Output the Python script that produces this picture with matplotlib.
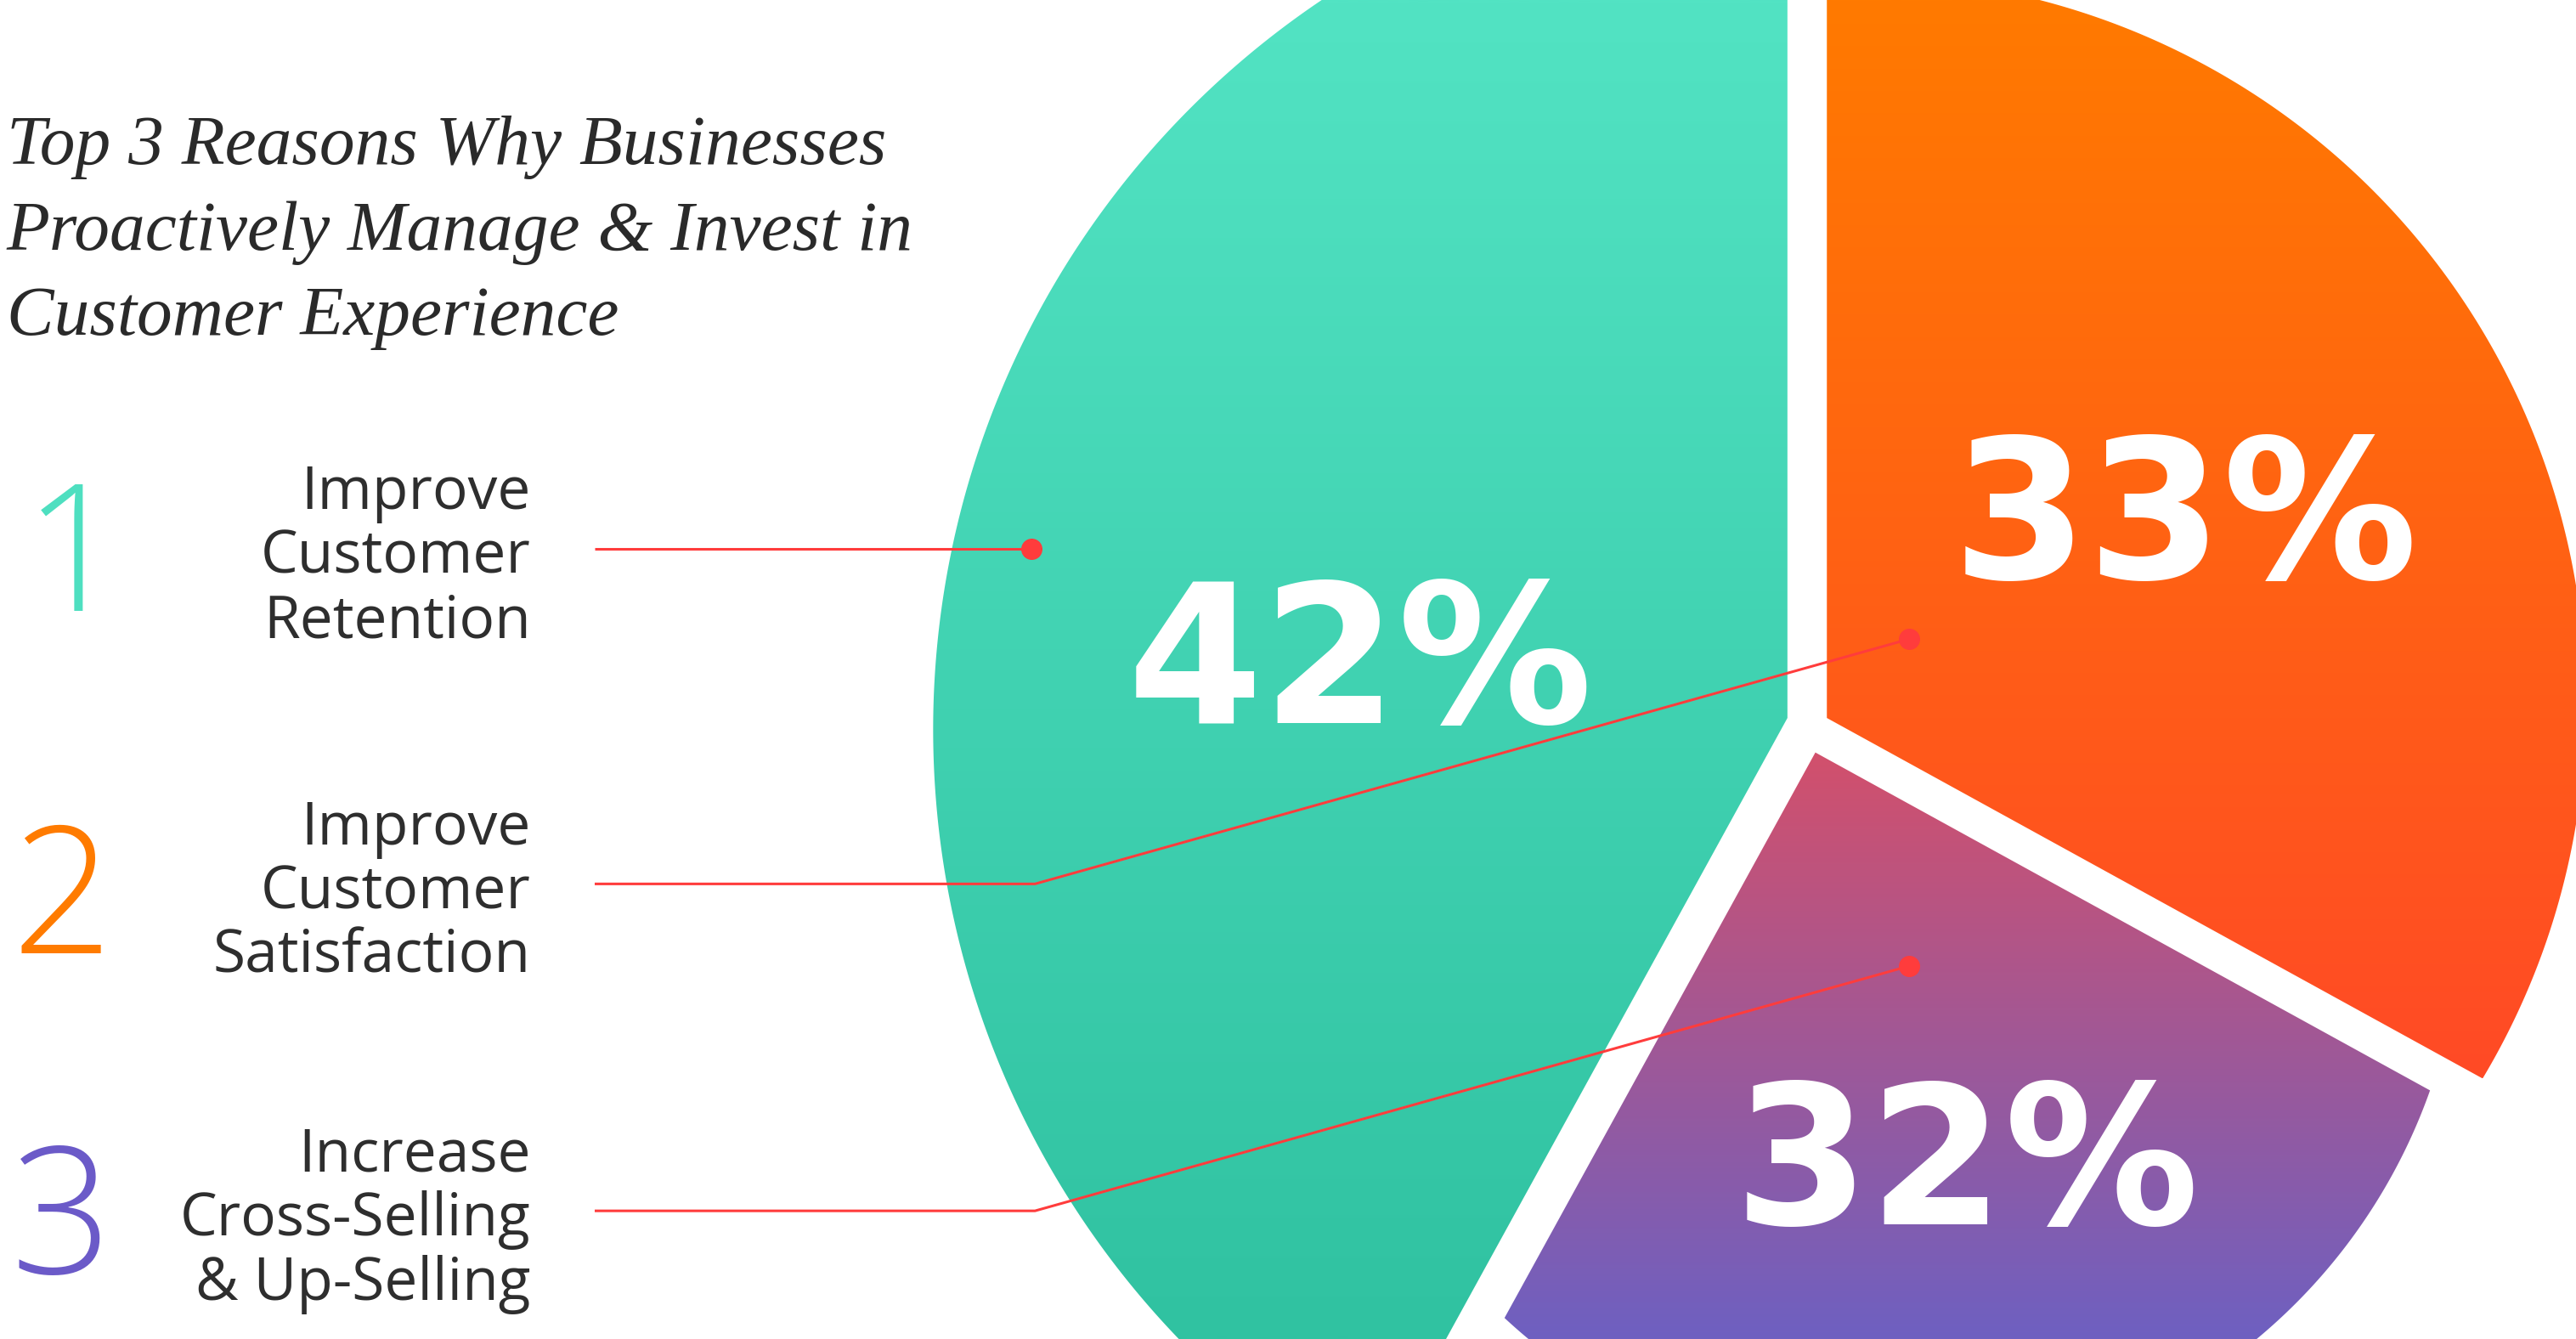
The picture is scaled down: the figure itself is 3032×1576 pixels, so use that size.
import numpy as np
import matplotlib
matplotlib.use("Agg")
import matplotlib.pyplot as plt
from matplotlib.patches import Polygon
from matplotlib.colors import to_rgb

# canvas in reference units (picture shown at 1568 x 815)
W, H = 1568, 815

# data
ranks = ["1", "2", "3"]
reasons = [
    ["Improve", "Customer", "Retention"],
    ["Improve", "Customer", "Satisfaction"],
    ["Increase", "Cross-Selling", "& Up-Selling"],
]
shares = [42, 33, 32]
share_labels = ["42%", "33%", "32%"]
title_lines = [
    "Top 3 Reasons Why Businesses",
    "Proactively Manage & Invest in",
    "Customer Experience",
]

# the drawn pie is on a 100% scale: first two slices by share, last one takes the rest
span_1 = 3.6 * shares[0]
span_2 = 3.6 * shares[1]
span_3 = 360 - span_1 - span_2
angles = [
    (90, 90 + span_1),                      # teal, counter-clockwise from top
    (90 - span_2, 90),                      # orange, clockwise from top
    (90 - span_2 - span_3, 90 - span_2),    # purple, below orange
]

# styling / layout
apex = [(1088, 437), (1112, 437), (1105, 458)]
rim_center = [(1103, 444), (1131, 429), (1152, 548)]
rim_radius = [535, 443, 347]
grad = [("#52e3c3", "#30c2a1"), ("#ff7a00", "#ff4a26"), ("#d2506c", "#6e60c1")]
rank_colors = ["#4edfc0", "#ff7b00", "#6b5ac8"]
rank_pos = [(45, 372), (38, 580), (37, 775)]
label_base = [310, 514, 713]
pct_pos = [(828, 440), (1330, 352), (1197, 745)]
leader_y = [334, 538, 737]
dot_pos = [(628, 334), (1162, 389), (1162, 588)]
red = "#ff3c3c"
dark = "#2e2e2e"


def slice_outline(a, t1, t2, c, r, n=600):
    ax_, ay_ = a
    phi = np.radians(np.linspace(t1, t2, n))
    ux, uy = np.cos(phi), -np.sin(phi)
    dx, dy = ax_ - c[0], ay_ - c[1]
    b = ux * dx + uy * dy
    s = -b + np.sqrt(b * b - (dx * dx + dy * dy - r * r))
    xs = np.concatenate([[ax_], ax_ + s * ux])
    ys = np.concatenate([[ay_], ay_ + s * uy])
    return np.column_stack([xs, ys])


fig = plt.figure(figsize=(30.32, 15.76), dpi=100)
ax = fig.add_axes([0, 0, 1, 1])
ax.set_xlim(0, W)
ax.set_ylim(H, 0)
ax.axis("off")

for i in range(3):
    pts = slice_outline(apex[i], angles[i][0], angles[i][1], rim_center[i], rim_radius[i])
    patch = Polygon(pts, closed=True, facecolor="none", edgecolor="none")
    ax.add_patch(patch)
    top = max(0, pts[:, 1].min())
    bot = min(H, pts[:, 1].max())
    c0, c1 = np.array(to_rgb(grad[i][0])), np.array(to_rgb(grad[i][1]))
    t = np.linspace(0, 1, 256)[:, None]
    img = (c0 * (1 - t) + c1 * t)[:, None, :]
    im = ax.imshow(img, extent=(0, W, bot, top), aspect="auto",
                   interpolation="bilinear", zorder=1)
    im.set_clip_path(patch)

# big percent labels
for (x, y), s in zip(pct_pos, share_labels):
    ax.text(x, y, s, color="white", fontsize=165, fontweight="bold",
            family="DejaVu Sans", ha="center", va="baseline", zorder=3)

# title
for k, line in enumerate(title_lines):
    ax.text(4, 100 + 52 * k, line, fontsize=60, style="italic",
            family="Liberation Serif", color="#2a2a2a", ha="left", va="baseline")

# rank numbers and reason labels
for i in range(3):
    ax.text(rank_pos[i][0], rank_pos[i][1], ranks[i], color=rank_colors[i],
            fontsize=150, fontweight="light", family="Open Sans",
            ha="center", va="baseline")
    for j, line in enumerate(reasons[i]):
        ax.text(323, label_base[i] + 39 * j, line, color=dark, fontsize=50,
                family="Open Sans", ha="right", va="baseline")

# leader lines
for i in range(3):
    xs = [362, 630, dot_pos[i][0]]
    ys = [leader_y[i], leader_y[i], dot_pos[i][1]]
    ax.plot(xs, ys, color=red, lw=2.2, zorder=4, solid_capstyle="butt")
    ax.plot(dot_pos[i][0], dot_pos[i][1], "o", color=red, ms=17, zorder=5)

fig.savefig("out.png", dpi=100, facecolor="white")
